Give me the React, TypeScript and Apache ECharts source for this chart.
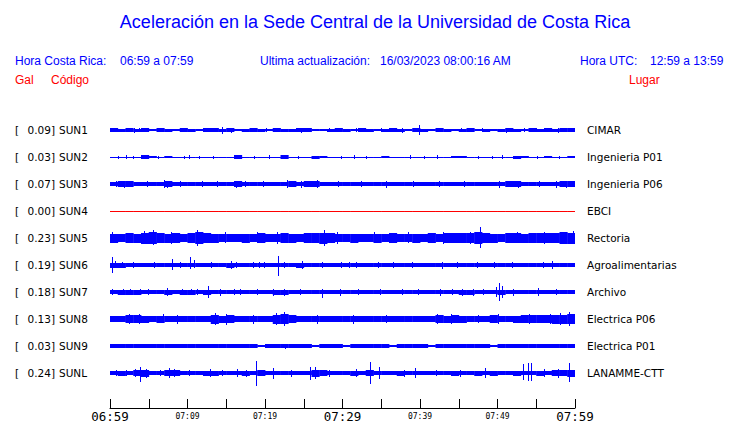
import React, { useEffect, useRef } from "react";
import * as echarts from "echarts";

// ---------- data ----------
const codes = ["SUN1", "SUN2", "SUN3", "SUN4", "SUN5", "SUN6", "SUN7", "SUN8", "SUN9", "SUNL"];
const places = ["CIMAR", "Ingenieria P01", "Ingenieria P06", "EBCI", "Rectoria", "Agroalimentarias", "Archivo", "Electrica P06", "Electrica P01", "LANAMME-CTT"];
const peakGal = [0.09, 0.03, 0.07, 0.0, 0.23, 0.19, 0.18, 0.13, 0.03, 0.24];

const axisLabels = ["06:59", "07:09", "07:19", "07:29", "07:39", "07:49", "07:59"];
const majorLabels = ["06:59", "07:29", "07:59"];

const titleText = "Aceleración en la Sede Central de la Universidad de Costa Rica";
const localLabel = "Hora Costa Rica:";
const localRange = "06:59 a 07:59";
const updateLabel = "Ultima actualización:";
const updateValue = "16/03/2023 08:00:16 AM";
const utcLabel = "Hora UTC:";
const utcRange = "12:59 a 13:59";
const colGal = "Gal";
const colCode = "Código";
const colPlace = "Lugar";

// per-minute envelope (half amplitude) of each trace
const sun1Env = [1.6,1.5,1.8,1.5,1.6,1.4,1.7,1.5,1.2,1.6,1.5,1.4,1.6,1.7,1.5,1.6,1.3,1.5,1.7,1.5,1.4,1.6,1.5,1.5,1.7,1.6,1.4,1.2,1.5,1.6,1.5,1.4,1.6,1.5,1.3,1.5,1.6,1.5,1.4,1.7,1.5,1.4,1.6,1.5,1.3,1.5,1.6,1.4,1.5,1.2,1.5,1.6,1.5,1.4,1.6,1.5,1.7,1.5,1.6,1.6];
const sun2Env = [0.5,0.5,0.5,0.5,1.6,1.2,0.5,1.3,0.5,0.5,0.5,0.5,0.5,0.5,0.5,0.5,1.6,0.5,0.5,0.5,0.5,0.5,1.6,0.5,0.5,0.5,1.5,1.3,0.5,0.5,0.5,0.5,0.5,0.5,0.5,1.3,0.5,0.5,0.5,0.5,0.5,0.5,0.5,0.5,1.3,1.2,0.5,0.5,0.5,0.5,0.5,0.5,1.5,1.4,0.5,0.5,1.2,0.5,0.5,1.4];
const sun3Env = [2.3,2.8,2.8,2.3,2.0,2.3,2.3,2.8,2.3,2.3,2.0,2.3,2.3,2.3,2.0,2.3,2.8,2.3,2.3,2.0,2.3,2.3,2.3,2.8,2.3,2.8,2.8,2.3,2.0,2.3,2.3,2.0,2.3,2.3,2.3,2.3,2.0,2.3,2.3,2.3,2.0,2.3,2.3,2.3,2.3,2.0,2.3,2.3,2.3,2.0,2.3,2.8,2.8,2.3,2.3,2.0,2.3,2.3,2.8,3.0];
const sun4Env = [0,0,0,0,0,0,0,0,0,0,0,0,0,0,0,0,0,0,0,0,0,0,0,0,0,0,0,0,0,0,0,0,0,0,0,0,0,0,0,0,0,0,0,0,0,0,0,0,0,0,0,0,0,0,0,0,0,0,0,0];
const sun5Env = [4.5,4.2,4.8,4.5,5.5,6,5.2,4.5,4.8,4.3,4.6,6,5.2,4.5,4.2,4.4,4,4.5,4.3,4.6,4.2,4.4,4.8,4.5,4.3,4.6,5,5.5,4.8,4.3,4.2,4.5,4.4,4.2,4.5,4.3,4.6,4.4,4.2,4.5,4.3,4.6,4.4,4.8,5,4.6,5.4,5.6,4.8,4.5,4.4,4.6,4.8,4.5,4.6,5,5.2,5.4,5.6,5.5];
const sun6Env = [2.5,2.5,2,2,2,2,2,2,2,2.3,2.3,2,2,2,2,2.5,2.3,2,2,2,2,2,2.3,2,2.5,2,2,2,2,2,2,2,2,2,2,2,2,2,2,2,2,2,2,2,2,2,2,2.3,2,2,2,2,2,2,2,2,2.3,2.3,2,2];
const sun7Env = [2,2.5,2.5,2.5,2,2,2,2.5,2,2.5,2.5,2,2.5,2,2,2,2.3,2,2,2,2,2.5,2.5,2,2,2,2,2,2,2.3,2,2,2,2,2,2,2,2,2,2,2,2,2.3,2,2.3,2.5,2.5,2,2.3,2,2.5,2,2.3,2,2,2.3,2,2,2,2];
const sun8Env = [3,3,3.8,3.8,3.5,3,3.5,3.2,3,3.2,3,3,3.2,4.5,3.5,4,3.2,3,3.2,3,3.2,4.5,5,4.2,3.3,3,3.2,3,3,3.2,3,3.2,3,3.3,3,3,3.2,3,3,3.2,3,3.2,3.8,3.5,3.8,3.5,3.2,3,3.2,3.6,3.2,3.3,3.5,4,4,3.8,4.2,4.5,4.5,5];
const sun9Env = [1.6,1.6,1.6,1.6,1.6,1.6,1.6,1.8,1.6,1.6,1.6,1.6,1.6,1.6,1.6,1.6,1.6,1.6,1.6,1.2,1.6,1.6,1.6,1.8,1.6,1.6,1.2,1.6,1.6,1.6,1.2,1.6,1.6,1.6,1.6,1.6,1.2,1.6,1.6,1.6,1.6,1.2,1.6,1.6,1.6,1.6,1.6,1.6,1.6,1.2,1.6,1.6,1.6,1.6,1.6,1.6,1.6,1.6,1.6,1.6];
const sunLEnv = [2,2.5,2,3,3.5,2,2,3,3,2,2,2,2.5,2.5,2,2,2,2.5,2,3,2,2,2,2,2,2,3.5,3,2,2,2,2.5,2,3,2,2,2,2.5,2,2,2,2,2,2,2.5,2,2,2.5,2,2.5,2,2,2.5,2,2,2.5,2,3,3,3.5];

// spikes: [minute, up, down]
const sun1Spikes = [[2.5,2.5,2],[3.1,2.5,2.5],[3.7,2,2],[9,2.5,2],[14.5,3.5,4],[15.6,2.5,2.5],[20.1,2.5,2],[24.6,2,2.5],[28.3,2.5,2],[31.8,2,2],[35,2.5,2],[37.7,2.5,2.5],[39.9,5,5],[42.9,2.5,2],[45.3,2,2],[48,2.5,2],[51.1,2.5,2.5],[53.4,2,2],[55,2.5,2],[57.8,2.5,2.5],[59.6,2.5,2]];
const sun2Spikes = [[1.0,1.5,1.5],[2.1,2,1.5],[3.0,1.5,1.5],[6.2,1.5,1.5],[9.5,1.5,1.5],[10.2,2,1.5],[11.5,1.5,1.5],[13.3,1.5,1.5],[18.6,1.5,1.5],[20.5,2,2],[24.2,1.5,1.5],[29.8,1.5,1.5],[31.5,2,1.5],[33.0,1.5,1.5],[38.7,2,2],[40.5,1.5,1.5],[42.2,2,1.5],[47.5,1.5,1.5],[49.3,1.5,1.5],[50.6,2,2],[55.1,1.5,1.5],[57.9,1.5,1.5]];
const sun3Spikes = [[0.8,3.5,3],[1.8,3.5,3.5],[2.2,3.5,3],[4.8,3,3],[7.0,4,3.5],[7.3,3.5,3.5],[9,3,3],[11.9,3.5,3],[13.8,3,3],[16.2,3.5,3.5],[17.4,3.5,3],[19.8,3,3],[22.9,4,3.5],[24.6,3.5,3.5],[25.9,3.5,3],[26.7,4,4],[29.4,3,3],[32.4,3,3],[35.6,3.5,3.5],[39.1,3,3],[42.5,3,3],[45.7,3,3],[50.2,3.5,3.5],[51.5,3.5,3],[52.7,3.5,3.5],[55.4,3,3],[57.6,3.5,3.5],[58.8,3.5,3.5]];
const sun4Spikes: number[][] = [];
const sun5Spikes = [[0.3,6,5],[4.4,7,6],[5.6,8,7],[7.9,6,6],[11.2,8,8],[14.8,6,5],[19,6,5],[21.5,6,6],[27.6,8,8],[29.3,6,6],[34,6,5],[38.4,6,5],[43,6,6],[46.5,6.5,6],[47.7,11,10],[52.5,6,5],[56,6,6],[59.7,7,6]];
const sun6Spikes = [[0.2,8,8],[0.6,4,3],[1.5,3,3],[3,3,2.5],[5.7,3,3],[8,6,5],[9,3,2.5],[10.3,8,4],[10.8,5,3],[13,3,2.5],[15.6,4,4],[16.3,3,3],[18.4,3,3],[19.2,3,3],[19.9,3,3],[21.7,9,11],[22.5,3,3],[24.8,4,4],[27.4,3,3],[29.8,3,2.5],[30.8,3,3],[31.8,3,3],[34.6,3,3],[36.5,3,3],[39,3,3],[42.8,3.5,3.5],[44.8,3,3],[47.4,3,3],[49.5,3,3],[51.9,3,3],[55.9,3,3],[57,4,3.5]];
const sun7Spikes = [[0.3,3,3],[1.7,3,3],[2.6,3,3],[3.9,3,3],[4.9,3,3],[7.3,4,4],[9.3,3,3],[10.4,3,3],[11.2,3,3],[12.7,6,6],[14.2,3.5,3.5],[16,3,3],[16.8,3,3],[19,3,3],[21,3.5,3.5],[22.4,3.5,3.5],[24.5,3,3],[27.4,3,6],[29.7,3.5,3.5],[32,3,3],[34.8,3,3],[37.7,3,3],[39.8,3,3],[42.6,3.5,3.5],[44.1,3,3],[45.4,3.5,3.5],[46.8,3.5,3.5],[48.1,3,3],[49.8,5,5],[50.2,9,9],[50.6,6,6],[52,3.5,3.5],[55.2,4,4],[57.5,3,3]];
const sun8Spikes = [[2.5,5,5],[3.8,5,5],[6.8,5,4],[8.7,4.5,4.5],[13.5,6,6],[15,5,6],[18.4,4.5,4.5],[21.4,6,6],[22.5,7,7],[26.7,4.5,4.5],[31.3,4.5,4.5],[35.6,4.5,4],[42.2,5,5],[44,5,4.5],[47.5,4.5,4],[50,5,5],[54,5,5],[56.8,5.5,5],[58,6,6],[59.2,7,7]];
const sun9Spikes = [[7.3,2.5,2],[22.6,2,2.5],[35.5,2,2],[50.2,2,2]];
const sunLSpikes = [[0.8,3,3],[2,3,3],[3.2,4,4],[3.9,6,9],[4.6,4,5],[6.5,3,3],[7.6,5,5],[8.3,4,4],[10.2,3,3],[12.9,4,4],[14.5,3,3],[16.4,4,4],[17.6,3.5,3.5],[18.8,12,13],[21,5,6],[23.4,3.5,3.5],[25.8,6,7],[26.5,6,6],[28.3,3.5,3.5],[31.8,4,4],[33.5,11,11],[34.7,6,6],[37.9,3.5,3.5],[39.3,5,5],[42,3,3],[45.2,3.5,3.5],[48.4,5,5],[53.3,9,7],[53.9,10,8],[54.3,10,8],[56,4,4],[57.8,4,5],[59.2,10,9]];

const envelopes = [sun1Env, sun2Env, sun3Env, sun4Env, sun5Env, sun6Env, sun7Env, sun8Env, sun9Env, sunLEnv];
const spikes = [sun1Spikes, sun2Spikes, sun3Spikes, sun4Spikes, sun5Spikes, sun6Spikes, sun7Spikes, sun8Spikes, sun9Spikes, sunLSpikes];

// ---------- layout ----------
const PLOT_LEFT = 110;
const PLOT_WIDTH = 465;
const ROW0 = 130;
const ROW_STEP = 27;
const ROW_HALF = 13;
const BLUE = "#0000ff";
const RED = "#ff0000";
const LABEL_FONT = '10.5px "DejaVu Sans"';
const HEAD_FONT = '12px "Liberation Sans"';

function bandRender(color: string) {
  return (params: any, api: any) => {
    const t = api.value(0);
    const a = api.value(1);
    const tl = api.coord([t - 0.5, a]);
    const br = api.coord([t + 0.5, -a]);
    const y0 = Math.round(tl[1]);
    let h = Math.round(br[1]) - y0;
    if (h < 1) h = 1;
    return {
      type: "rect",
      shape: { x: tl[0], y: y0, width: br[0] - tl[0] + 0.4, height: h },
      style: { fill: color },
    };
  };
}

function spikeRender(color: string) {
  return (params: any, api: any) => {
    const t = api.value(0);
    const top = api.coord([t, api.value(1)]);
    const bot = api.coord([t, -api.value(2)]);
    const y0 = Math.round(top[1]);
    return {
      type: "rect",
      shape: { x: Math.round(top[0]), y: y0, width: 1, height: Math.round(bot[1]) - y0 },
      style: { fill: color },
    };
  };
}

export default function App() {
  const ref = useRef<HTMLDivElement>(null);

  useEffect(() => {
    if (!ref.current) return;
    const chart = echarts.init(ref.current, undefined, { renderer: "svg" });

    const grids: any[] = [];
    const xAxes: any[] = [];
    const yAxes: any[] = [];
    const series: any[] = [];
    const graphics: any[] = [];

    codes.forEach((code, k) => {
      const cy = ROW0 + ROW_STEP * k;
      const color = k === 3 ? RED : BLUE;
      grids.push({ left: PLOT_LEFT, width: PLOT_WIDTH, top: cy - ROW_HALF, height: ROW_HALF * 2 });
      xAxes.push({ gridIndex: k, type: "value", min: 0, max: 60, show: false });
      yAxes.push({ gridIndex: k, type: "value", min: -ROW_HALF, max: ROW_HALF, show: false });
      series.push({
        type: "custom",
        xAxisIndex: k,
        yAxisIndex: k,
        clip: true,
        silent: true,
        renderItem: bandRender(color),
        data: envelopes[k].map((a, i) => [i + 0.5, a]),
      });
      series.push({
        type: "custom",
        xAxisIndex: k,
        yAxisIndex: k,
        clip: true,
        silent: true,
        renderItem: spikeRender(color),
        data: spikes[k],
      });

      graphics.push(
        { type: "text", x: 15, y: cy, style: { text: "[", font: LABEL_FONT, fill: "#000", align: "left", verticalAlign: "middle" } },
        { type: "text", x: 55, y: cy, style: { text: peakGal[k].toFixed(2) + "]", font: LABEL_FONT, fill: "#000", align: "right", verticalAlign: "middle" } },
        { type: "text", x: 59, y: cy, style: { text: code, font: LABEL_FONT, fill: "#000", align: "left", verticalAlign: "middle" } },
        { type: "text", x: 587, y: cy, style: { text: places[k], font: LABEL_FONT, fill: "#000", align: "left", verticalAlign: "middle" } }
      );
    });

    // time axis
    const ai = codes.length;
    grids.push({ left: PLOT_LEFT, width: PLOT_WIDTH, top: 400, height: 9 });
    xAxes.push({
      gridIndex: ai,
      type: "value",
      min: 0,
      max: 60,
      interval: 5,
      position: "bottom",
      axisLine: { show: true, lineStyle: { color: "#000", width: 1 } },
      axisTick: { show: true, inside: true, length: 9, lineStyle: { color: "#000", width: 1 } },
      splitLine: { show: false },
      axisLabel: {
        show: true,
        margin: 2,
        showMinLabel: true,
        showMaxLabel: true,
        hideOverlap: false,
        formatter: (v: number) => {
          const idx = Math.round(v / 5);
          if (idx % 2 !== 0) return "";
          const lab = axisLabels[idx / 2];
          if (!lab) return "";
          return majorLabels.includes(lab) ? `{big|${lab}}` : `{small|${lab}}`;
        },
        rich: {
          big: { fontFamily: "DejaVu Sans Mono", fontSize: 12.5, color: "#000", lineHeight: 13 },
          small: { fontFamily: "DejaVu Sans Mono", fontSize: 8, color: "#000", lineHeight: 13 },
        },
      },
    });
    yAxes.push({ gridIndex: ai, type: "value", min: 0, max: 1, show: false });
    series.push({ type: "line", xAxisIndex: ai, yAxisIndex: ai, data: [], silent: true });

    // header
    graphics.push(
      { type: "text", x: 375, y: 22, style: { text: titleText, font: '18px "Liberation Sans"', fill: BLUE, align: "center", verticalAlign: "middle" } },
      { type: "text", x: 15, y: 61, style: { text: localLabel, font: HEAD_FONT, fill: BLUE, align: "left", verticalAlign: "middle" } },
      { type: "text", x: 120, y: 61, style: { text: localRange, font: HEAD_FONT, fill: BLUE, align: "left", verticalAlign: "middle" } },
      { type: "text", x: 260, y: 61, style: { text: updateLabel, font: HEAD_FONT, fill: BLUE, align: "left", verticalAlign: "middle" } },
      { type: "text", x: 380, y: 61, style: { text: updateValue, font: HEAD_FONT, fill: BLUE, align: "left", verticalAlign: "middle" } },
      { type: "text", x: 580, y: 61, style: { text: utcLabel, font: HEAD_FONT, fill: BLUE, align: "left", verticalAlign: "middle" } },
      { type: "text", x: 650, y: 61, style: { text: utcRange, font: HEAD_FONT, fill: BLUE, align: "left", verticalAlign: "middle" } },
      { type: "text", x: 15, y: 80, style: { text: colGal, font: HEAD_FONT, fill: RED, align: "left", verticalAlign: "middle" } },
      { type: "text", x: 51, y: 80, style: { text: colCode, font: HEAD_FONT, fill: RED, align: "left", verticalAlign: "middle" } },
      { type: "text", x: 629, y: 80, style: { text: colPlace, font: HEAD_FONT, fill: RED, align: "left", verticalAlign: "middle" } }
    );

    chart.setOption({
      animation: false,
      backgroundColor: "#ffffff",
      grid: grids,
      xAxis: xAxes,
      yAxis: yAxes,
      series,
      graphic: graphics,
    });

    return () => chart.dispose();
  }, []);

  return (
    <div
      ref={ref}
      style={{ position: "fixed", left: 0, top: 0, width: 740, height: 423, background: "#fff" }}
    />
  );
}
